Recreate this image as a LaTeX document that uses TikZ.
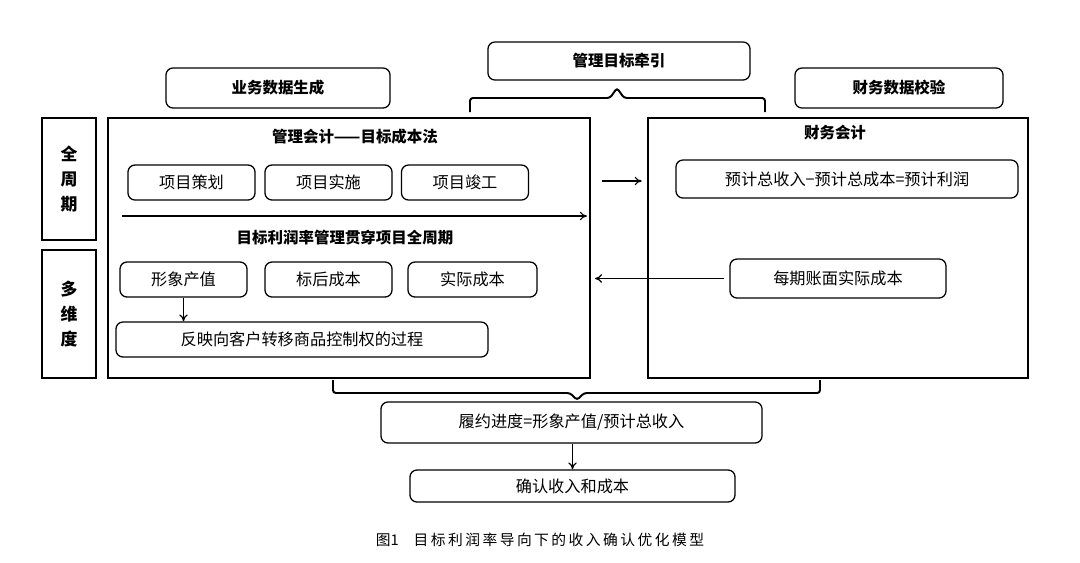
\documentclass[tikz,border=0pt]{standalone}
\usepackage{fontspec}
\setmainfont{Noto Sans CJK SC}
\usetikzlibrary{positioning,calc,arrows.meta}
\tikzset{x=0.025cm,y=-0.025cm}
\tikzset{box/.style={draw,rounded corners=5pt,line width=0.9pt,font=\fontsize{11.5}{13}\selectfont,inner sep=0pt}}
\tikzset{frame/.style={draw,line width=0.9pt,inner sep=0pt}}
\tikzset{arr/.style={-{To[length=5pt,width=6pt]},line width=0.8pt}}
\tikzset{brace/.style={line width=1.4pt,rounded corners=2pt}}
\begin{document}
\begin{tikzpicture}
  \useasboundingbox (0,0) rectangle (1080,562);
  %% top labels
  \node[box,minimum width=5.6cm,minimum height=1cm,font=\fontsize{11}{13}\selectfont\bfseries] (gen) at (278,88) {业务数据生成};
  \node[box,minimum width=6.55cm,minimum height=0.95cm,font=\fontsize{11}{13}\selectfont\bfseries] (goal) at (619,61) {管理目标牵引};
  \node[box,minimum width=5.2cm,minimum height=1cm,font=\fontsize{11}{13}\selectfont\bfseries] (chk) at (899,88) {财务数据校验};
  \draw[brace] (470,112) -- (470,98) -- (610,98) -- (617,88) -- (624,98) -- (765,98) -- (765,112);
  %% side labels
  \node[frame,minimum width=1.35cm,minimum height=3.05cm,font=\fontsize{12}{18}\selectfont\bfseries,align=center] (full) at (69,179) {全\\周\\期};
  \node[frame,minimum width=1.35cm,minimum height=3.2cm,font=\fontsize{12}{18}\selectfont\bfseries,align=center] (multi) at (69,314) {多\\维\\度};
  %% two main frames
  \node[frame,minimum width=12.05cm,minimum height=6.5cm] (mgmt) at (349,248) {};
  \node[frame,minimum width=9.5cm,minimum height=6.5cm] (fin) at (838,248) {};
  \node[font=\fontsize{11}{13}\selectfont\bfseries] (mtitle) at (355,137) {管理会计——目标成本法};
  \node[font=\fontsize{11}{13}\selectfont\bfseries] (ftitle) at (835,133) {财务会计};
  \node[box,minimum width=3.175cm,minimum height=0.875cm] (p1) at (191.5,182.5) {项目策划};
  \node[box,minimum width=3.175cm,minimum height=0.875cm] (p2) at (328.5,182.5) {项目实施};
  \node[box,minimum width=3.175cm,minimum height=0.875cm] (p3) at (465,182.5) {项目竣工};
  \coordinate (ta) at (122,216);
  \coordinate (tb) at (587,216);
  \draw[arr] (ta) -- (tb);
  \node[font=\fontsize{11}{13}\selectfont\bfseries] (thru) at (345,238) {目标利润率管理贯穿项目全周期};
  \node[box,minimum width=3.175cm,minimum height=0.875cm] (v1) at (183.5,279.5) {形象产值};
  \node[box,minimum width=3.175cm,minimum height=0.875cm] (v2) at (328.5,279.5) {标后成本};
  \node[box,minimum width=3.225cm,minimum height=0.875cm] (v3) at (472.5,279.5) {实际成本};
  \node[box,minimum width=9.3cm,minimum height=0.875cm] (ctrl) at (302,339.5) {反映向客户转移商品控制权的过程};
  \draw[arr] (v1.south) -- (v1.south |- ctrl.north);
  \node[box,minimum width=8.55cm,minimum height=0.95cm] (est) at (847,179) {预计总收入−预计总成本=预计利润};
  \node[box,minimum width=5.4cm,minimum height=0.975cm] (act) at (838,278.5) {每期账面实际成本};
  \draw[arr,shorten <=8pt,shorten >=4pt] (mgmt.east |- 0,181) -- (fin.west |- 0,181);
  \draw[arr,shorten <=4pt,shorten >=3pt] (act.west) -- (act.west -| mgmt.east);
  %% bottom
  \draw[brace] (333,380) -- (333,393) -- (570,393) -- (577,400) -- (584,393) -- (820,393) -- (820,380);
  \node[box,minimum width=9.525cm,minimum height=1.025cm] (prog) at (571.5,422.5) {履约进度=形象产值/预计总收入};
  \node[box,minimum width=8.125cm,minimum height=0.8cm] (rec) at (572.5,486) {确认收入和成本};
  \draw[arr] (prog.south -| rec) -- (rec.north);
  \node[font=\fontsize{10.5}{12}\selectfont] (cap) at (540,540) {图1\quad 目\,标\,利\,润\,率\,导\,向\,下\,的\,收\,入\,确\,认\,优\,化\,模\,型};
\end{tikzpicture}
\end{document}
